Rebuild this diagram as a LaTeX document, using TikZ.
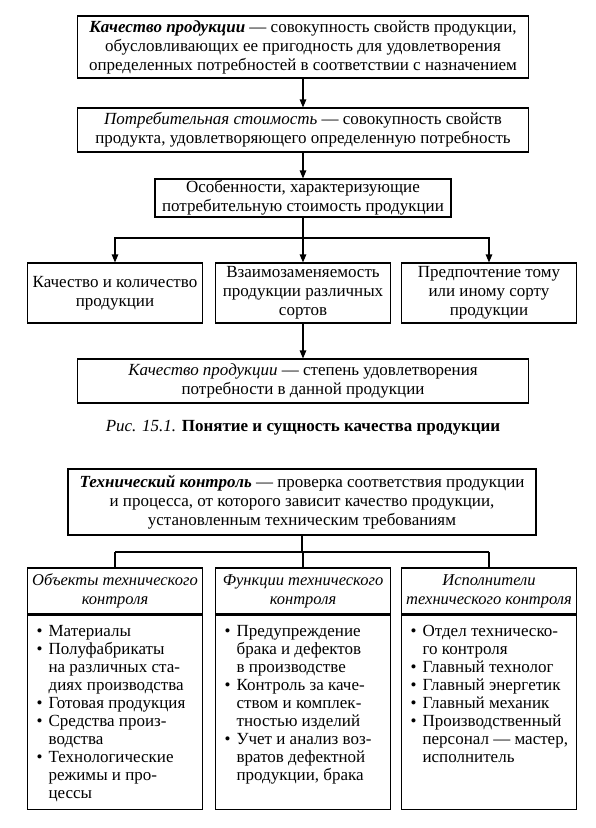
\documentclass[tikz,border=0pt]{standalone}
\usepackage{fontspec}
\setmainfont{Liberation Serif}
\usetikzlibrary{arrows.meta}
\usetikzlibrary{positioning}

\begin{document}
\begin{tikzpicture}[x=1pt, y=-1pt,
    box/.style={draw, line width=1.1pt, align=center, inner sep=0pt,
        font=\fontsize{17}{19}\selectfont},
    hdr/.style={box, font=\fontsize{16.5}{19}\selectfont\itshape},
    arr/.style={-{Triangle[length=8pt,width=6.5pt]}, line width=1.1pt},
    lin/.style={line width=1.1pt},
    lst/.style={anchor=north west, inner sep=0pt, align=left,
        font=\fontsize{17}{18}\selectfont}]

    \useasboundingbox (0,0) rectangle (596,828);

    % UPPER: quality of products
    \node[box, minimum width=451pt, minimum height=62pt] (qual) at (303,47)
        {\textbf{\textit{Качество продукции}} — совокупность свойств продукции,\\
         обусловливающих ее пригодность для удовлетворения\\
         определенных потребностей в соответствии с назначением};
    \node[box, minimum width=451pt, minimum height=44pt] (cons) at (303,130)
        {\textit{Потребительная стоимость} — совокупность свойств\\
         продукта, удовлетворяющего определенную потребность};
    \node[box, minimum width=296pt, minimum height=38pt] (feat) at (303,198)
        {Особенности, характеризующие\\
         потребительную стоимость продукции};

    % Three features
    \node[box, minimum width=175pt, minimum height=60pt] (qty) at (115,293)
        {Качество и количество\\продукции};
    \node[box, minimum width=175pt, minimum height=60pt] (swap) at (303,293)
        {Взаимозаменяемость\\продукции различных\\сортов};
    \node[box, minimum width=175pt, minimum height=60pt] (pref) at (489,293)
        {Предпочтение тому\\или иному сорту\\продукции};

    \node[box, minimum width=451pt, minimum height=44pt] (degr) at (303,381)
        {\textit{Качество продукции} — степень удовлетворения\\
         потребности в данной продукции};

    % Arrows
    \draw[arr] (qual) -- (cons);
    \draw[arr] (cons) -- (feat);
    \coordinate (fork1) at (303,238);
    \draw[arr] (feat) -- (swap);
    \draw[arr] (fork1) -| (qty);
    \draw[arr] (fork1) -| (pref);
    \draw[arr] (swap) -- (degr);

    % Caption
    \node[font=\fontsize{17}{20}\selectfont] (cap) at (303,428)
        {\textit{Рис. 15.1.} \textbf{Понятие и сущность качества продукции}};

    % LOWER: technical control
    \node[box, minimum width=468pt, minimum height=66pt] (tech) at (302,502)
        {\textbf{\textit{Технический контроль}} — проверка соответствия продукции\\
         и процесса, от которого зависит качество продукции,\\
         установленным техническим требованиям};

    \node[hdr, minimum width=175pt, minimum height=46pt] (objH) at (115,591)
        {Объекты технического\\контроля};
    \node[hdr, minimum width=175pt, minimum height=46pt] (funH) at (303,591)
        {Функции технического\\контроля};
    \node[hdr, minimum width=175pt, minimum height=46pt] (exeH) at (489,591)
        {Исполнители\\технического контроля};

    \node[box, minimum width=175pt, minimum height=194pt, anchor=north] (objB) at (objH.south) {};
    \node[box, minimum width=175pt, minimum height=194pt, anchor=north] (funB) at (funH.south) {};
    \node[box, minimum width=175pt, minimum height=194pt, anchor=north] (exeB) at (exeH.south) {};

    % Lists
    \node[lst] (objL) at ([xshift=9.5pt, yshift=-9pt]objB.north west)
        {\begin{tabular}{@{}l@{\hspace{6pt}}l@{}}
         \textbullet & Материалы\\
         \textbullet & Полуфабрикаты\\
                     & на различных ста-\\
                     & диях производства\\
         \textbullet & Готовая продукция\\
         \textbullet & Средства произ-\\
                     & водства\\
         \textbullet & Технологические\\
                     & режимы и про-\\
                     & цессы
         \end{tabular}};
    \node[lst] (funL) at ([xshift=9.5pt, yshift=-9pt]funB.north west)
        {\begin{tabular}{@{}l@{\hspace{6pt}}l@{}}
         \textbullet & Предупреждение\\
                     & брака и дефектов\\
                     & в производстве\\
         \textbullet & Контроль за каче-\\
                     & ством и комплек-\\
                     & тностью изделий\\
         \textbullet & Учет и анализ воз-\\
                     & вратов дефектной\\
                     & продукции, брака
         \end{tabular}};
    \node[lst] (exeL) at ([xshift=9.5pt, yshift=-9pt]exeB.north west)
        {\begin{tabular}{@{}l@{\hspace{6pt}}l@{}}
         \textbullet & Отдел техническо-\\
                     & го контроля\\
         \textbullet & Главный технолог\\
         \textbullet & Главный энергетик\\
         \textbullet & Главный механик\\
         \textbullet & Производственный\\
                     & персонал — мастер,\\
                     & исполнитель
         \end{tabular}};

    % Connectors
    \coordinate (fork2) at (302,552);
    \draw[lin] (tech) -- (fork2);
    \draw[lin] (fork2 -| objH) -- (fork2 -| exeH);
    \draw[lin] (fork2 -| objH) -- (objH);
    \draw[lin] (fork2 -| funH) -- (funH);
    \draw[lin] (fork2 -| exeH) -- (exeH);

\end{tikzpicture}
\end{document}
